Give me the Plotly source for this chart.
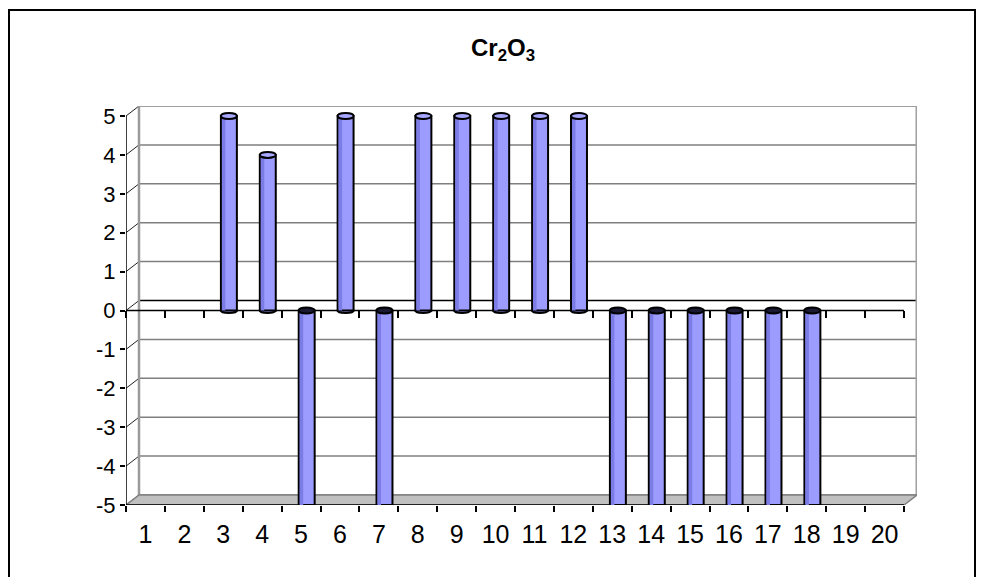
import plotly.graph_objects as go

# ---- data ----
categories = list(range(1, 21))
tick_labels = [str(c) for c in categories]
values = [None, None, 5, 4, -5, 5, -5, 5, 5, 5, 5, 5, -5, -5, -5, -5, -5, -5, None, None]
y_ticks = list(range(-5, 6))
title_text = "<b>Cr<sub>2</sub>O<sub>3</sub></b>"

# ---- geometry / style ----
W, H = 984, 577
ML, MR, MT, MB = 126, 67, 106, 72
DX = 0.334          # depth offset in category units
DY = 0.257          # depth offset in value units
XR = [0.5, 20.5 + DX]
YR = [-5, 5 + DY]
BAR_W, BAR_OFF = 0.41, -0.06
BAR_COLOR = "#9C9CFF"
BAR_DARK = "#7C7CE6"
FONT = "Liberation Sans, Arial, sans-serif"

pw = W - ML - MR
ph = H - MT - MB

def px_to_paper_x(px):
    return (px - ML) / pw

def px_to_paper_y(py):
    return (H - MB - py) / ph

shapes = []
xmin, xmax = XR[0], 20.5
# back wall fill
shapes.append(dict(type="rect", xref="x", yref="y", x0=xmin + DX, x1=xmax + DX,
                   y0=-5 + DY, y1=5 + DY, fillcolor="white", line=dict(width=0), layer="below"))
# back wall gridlines + side diagonals
for k in y_ticks:
    shapes.append(dict(type="line", xref="x", yref="y", x0=xmin + DX, x1=xmax + DX,
                       y0=k + DY, y1=k + DY,
                       line=dict(color="black" if k == 0 else "#7F7F7F", width=1.5), layer="below"))
    shapes.append(dict(type="line", xref="x", yref="y", x0=xmin, x1=xmin + DX,
                       y0=k, y1=k + DY, line=dict(color="#222222", width=1), layer="below"))
# back wall edges
shapes.append(dict(type="line", xref="x", yref="y", x0=xmin + DX, x1=xmin + DX,
                   y0=-5 + DY, y1=5 + DY, line=dict(color="#9A9A9A", width=2.5), layer="below"))
shapes.append(dict(type="line", xref="x", yref="y", x0=xmax + DX, x1=xmax + DX,
                   y0=-5 + DY, y1=5 + DY, line=dict(color="#A0A0A0", width=3), layer="below"))
# floor
shapes.append(dict(type="path", xref="x", yref="y",
                   path=f"M {xmin},{-5} L {xmax},{-5} L {xmax + DX},{-5 + DY} L {xmin + DX},{-5 + DY} Z",
                   fillcolor="#C0C0C0", line=dict(color="#808080", width=1.5), layer="below"))
# front axis lines
shapes.append(dict(type="line", xref="x", yref="y", x0=xmin, x1=xmin, y0=-5, y1=5,
                   line=dict(color="black", width=1.5), layer="below"))
shapes.append(dict(type="line", xref="x", yref="y", x0=xmin, x1=xmax, y0=-5, y1=-5,
                   line=dict(color="black", width=1.5), layer="below"))
shapes.append(dict(type="line", xref="x", yref="y", x0=xmin, x1=xmax, y0=0, y1=0,
                   line=dict(color="black", width=1.5), layer="below"))

# cylinder ends
bar_px = BAR_W * pw / (XR[1] - XR[0])
hw = bar_px / 2
for c, v in zip(categories, values):
    if v is None:
        continue
    xc = c + BAR_OFF + BAR_W / 2
    top = max(v, 0)
    bottom = min(v, 0)
    # bottom ellipse (below bar)
    shapes.append(dict(type="circle", xref="x", yref="y", xsizemode="pixel", ysizemode="pixel",
                       xanchor=xc, yanchor=bottom, x0=-hw, x1=hw, y0=-2.5, y1=2.5,
                       fillcolor=BAR_COLOR, line=dict(color="black", width=2), layer="below"))
    # top ellipse (above bar)
    shapes.append(dict(type="circle", xref="x", yref="y", xsizemode="pixel", ysizemode="pixel",
                       xanchor=xc, yanchor=top, x0=-hw, x1=hw, y0=-3, y1=3,
                       fillcolor=("#A8A8FF" if v > 0 else "#1A1A33"),
                       line=dict(color="black", width=2), layer="above"))

# outer chart border
shapes.append(dict(type="rect", xref="paper", yref="paper",
                   x0=px_to_paper_x(9), x1=px_to_paper_x(975),
                   y0=px_to_paper_y(H + 20), y1=px_to_paper_y(10),
                   line=dict(color="black", width=2), fillcolor="rgba(0,0,0,0)", layer="above"))

fig = go.Figure()
fig.add_trace(go.Bar(x=categories, y=values, width=BAR_W, offset=BAR_OFF,
                     marker=dict(color=BAR_COLOR, line=dict(color="black", width=2)),
                     hoverinfo="x+y", showlegend=False))
fig.add_trace(go.Bar(x=categories, y=values, width=0.09, offset=BAR_OFF + 0.025,
                     marker=dict(color=BAR_DARK, line=dict(width=0)),
                     hoverinfo="skip", showlegend=False))
# helper invisible traces for tick-only axes
boundaries = [c - 0.5 for c in categories] + [categories[-1] + 0.5]
fig.add_trace(go.Scatter(x=boundaries, y=[0] * len(boundaries), xaxis="x2", mode="markers",
                         marker=dict(opacity=0, size=1), hoverinfo="skip", showlegend=False))
fig.add_trace(go.Scatter(x=boundaries, y=[0] * len(boundaries), xaxis="x3", mode="markers",
                         marker=dict(opacity=0, size=1), hoverinfo="skip", showlegend=False))

zero_pos = (0 - YR[0]) / (YR[1] - YR[0])

fig.update_layout(
    width=W, height=H,
    margin=dict(l=ML, r=MR, t=MT, b=MB, pad=0),
    paper_bgcolor="white", plot_bgcolor="rgba(0,0,0,0)",
    barmode="overlay",
    font=dict(family=FONT, size=22, color="black"),
    title=dict(text=title_text, font=dict(family=FONT, size=24, color="black"),
               xref="paper", x=px_to_paper_x(503), xanchor="center",
               yref="container", y=1 - 48 / H, yanchor="middle"),
    xaxis=dict(range=XR, tickmode="array", tickvals=categories, ticktext=tick_labels,
               showgrid=False, zeroline=False, showline=False, ticks="",
               ticklabelstandoff=12,
               tickfont=dict(size=25), fixedrange=True),
    xaxis2=dict(range=XR, overlaying="x", anchor="free", position=0,
                tickmode="array", tickvals=boundaries, showticklabels=False,
                ticks="outside", ticklen=6, tickwidth=1.5, tickcolor="black",
                showgrid=False, zeroline=False, showline=False, fixedrange=True),
    xaxis3=dict(range=XR, overlaying="x", anchor="free", position=zero_pos,
                tickmode="array", tickvals=boundaries, showticklabels=False,
                ticks="outside", ticklen=7, tickwidth=1.5, tickcolor="black",
                showgrid=False, zeroline=False, showline=False, fixedrange=True),
    yaxis=dict(range=YR, tickmode="array", tickvals=y_ticks, ticktext=[str(v) for v in y_ticks],
               showgrid=False, zeroline=False, showline=False,
               ticks="outside", ticklen=5, tickwidth=1.5, tickcolor="black",
               tickfont=dict(size=22), fixedrange=True),
    shapes=shapes,
)

fig.write_html("out.html")
